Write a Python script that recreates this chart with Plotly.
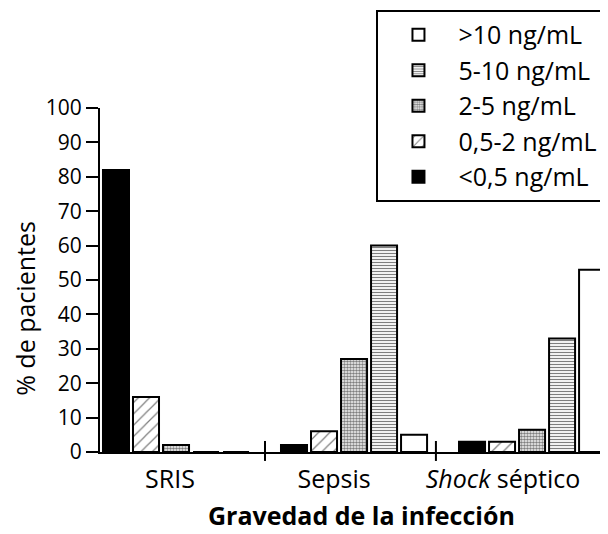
import plotly.graph_objects as go

# Data
group_pos = [0, 1, 2]
group_labels = ["SRIS", "Sepsis", "<i>Shock</i> séptico"]
label_pos = [-0.034, 0.888, 1.837]
separator_pos = [0.5, 1.46]

series_names = ["<0,5 ng/mL", "0,5-2 ng/mL", "2-5 ng/mL", "5-10 ng/mL", ">10 ng/mL"]
v_lt05 = [82, 2, 3]
v_05_2 = [16, 6, 3]
v_2_5 = [2, 27, 6.5]
v_5_10 = [0, 60, 33]
v_gt10 = [0, 5, 53]
values = [v_lt05, v_05_2, v_2_5, v_5_10, v_gt10]

y_ticks = list(range(0, 101, 10))

styles = [
    dict(color="black", pattern=dict(shape="")),
    dict(color="white", pattern=dict(shape="/", size=8, solidity=0.15, fgcolor="black", bgcolor="white", fillmode="overlay")),
    dict(color="white", pattern=dict(shape=".", size=3, solidity=0.6, fgcolor="black", bgcolor="white", fillmode="overlay")),
    dict(color="white", pattern=dict(shape="-", size=3, solidity=0.4, fgcolor="black", bgcolor="white", fillmode="overlay")),
    dict(color="white", pattern=dict(shape="")),
]

FONT = "Open Sans"
fig = go.Figure()
n = len(series_names)
for i, (name, vals, st) in enumerate(zip(series_names, values, styles)):
    fig.add_trace(go.Bar(
        x=group_pos, y=vals, name=name, legendrank=n - i,
        marker=dict(color=st["color"], pattern=st["pattern"],
                    line=dict(color="black", width=2)),
    ))

shapes = []
for sx in separator_pos:
    shapes.append(dict(type="line", xref="x", yref="paper", x0=sx, x1=sx,
                       y0=-0.026, y1=0.032, line=dict(color="black", width=2)))

fig.update_layout(
    width=600, height=526,
    margin=dict(l=92, r=1, t=100, b=82),
    paper_bgcolor="white", plot_bgcolor="white",
    barmode="group", bargap=0.157, bargroupgap=0.133,
    font=dict(family=FONT, color="black", size=20),
    showlegend=True,
    legend=dict(
        x=0.995, xanchor="right", y=1.285, yanchor="top",
        traceorder="normal", itemwidth=70,
        bordercolor="black", borderwidth=2, bgcolor="white",
        font=dict(family=FONT, size=25, color="black"),
    ),
    xaxis=dict(
        range=[-0.427, 2.421], showgrid=False, zeroline=False,
        showline=True, linecolor="black", linewidth=2,
        tickmode="array", tickvals=label_pos, ticktext=group_labels,
        ticks="", ticklabelstandoff=4,
        tickfont=dict(family=FONT, size=25, color="black"),
    ),
    yaxis=dict(
        range=[0, 100], showgrid=False, zeroline=False,
        showline=True, linecolor="black", linewidth=2,
        tickmode="array", tickvals=y_ticks,
        ticks="outside", ticklen=12, tickwidth=1.5, tickcolor="black",
        tickfont=dict(family=FONT, size=21, color="black"),
    ),
    shapes=shapes,
    annotations=[
        dict(text="% de pacientes", xref="paper", yref="paper", x=-0.148, y=0.419,
             xanchor="center", yanchor="middle",
             textangle=-90, showarrow=False, font=dict(family=FONT, size=25, color="black")),
        dict(text="<b>Gravedad de la infección</b>", xref="paper", yref="paper",
             x=0.515, y=-0.183, xanchor="center", yanchor="middle",
             showarrow=False, font=dict(family=FONT, size=25, color="black")),
    ],
)

fig.write_html("out.html")
